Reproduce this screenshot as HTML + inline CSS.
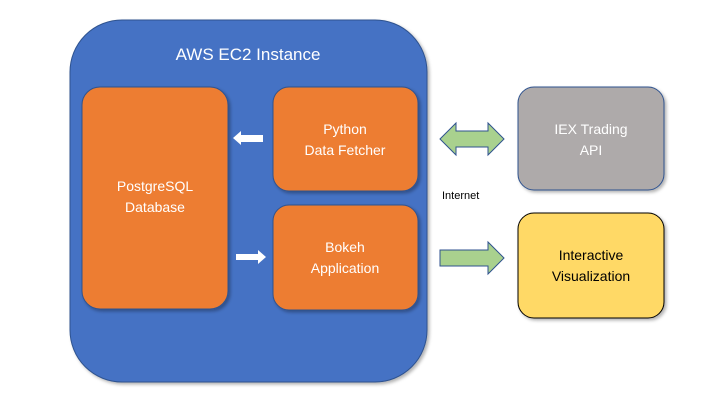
<!DOCTYPE html>
<html><head><style>body{margin:0;background:#fff}svg{display:block}text{font-family:"Liberation Sans",sans-serif}</style></head>
<body>
<svg width="720" height="405" viewBox="0 0 720 405" xmlns="http://www.w3.org/2000/svg">
<defs><filter id="s" x="-10%" y="-10%" width="130%" height="130%"><feDropShadow dx="2" dy="2" stdDeviation="1.5" flood-color="#000" flood-opacity="0.3"/></filter></defs>
<rect x="70" y="20" width="357" height="362" rx="52" fill="#4472c4" stroke="#2f528f" stroke-width="1" filter="url(#s)"/>
<text x="248" y="60" text-anchor="middle" font-size="17" fill="#fff">AWS EC2 Instance</text>
<rect x="82" y="87" width="146" height="222" rx="18" fill="#ed7d31" stroke="#2f528f" filter="url(#s)"/>
<text x="155" y="191" text-anchor="middle" font-size="14" fill="#fff">PostgreSQL</text>
<text x="155" y="212" text-anchor="middle" font-size="14" fill="#fff">Database</text>
<rect x="273" y="87" width="145" height="104" rx="16" fill="#ed7d31" stroke="#2f528f" filter="url(#s)"/>
<text x="345" y="134" text-anchor="middle" font-size="14" fill="#fff">Python</text>
<text x="345" y="155" text-anchor="middle" font-size="14" fill="#fff">Data Fetcher</text>
<rect x="273" y="205" width="145" height="105" rx="16" fill="#ed7d31" stroke="#2f528f" filter="url(#s)"/>
<text x="345" y="252" text-anchor="middle" font-size="14" fill="#fff">Bokeh</text>
<text x="345" y="273" text-anchor="middle" font-size="14" fill="#fff">Application</text>
<polygon points="233,138 241,131 241,135 263,135 263,142 241,142 241,145" fill="#fff"/>
<polygon points="236,254 258,254 258,250 266,257 258,264 258,260 236,260" fill="#fff"/>
<rect x="518" y="87" width="146" height="103" rx="16" fill="#aeaaaa" stroke="#2f528f" filter="url(#s)"/>
<text x="591" y="134" text-anchor="middle" font-size="14" fill="#fff">IEX Trading</text>
<text x="591" y="155" text-anchor="middle" font-size="14" fill="#fff">API</text>
<rect x="518" y="213" width="146" height="105" rx="16" fill="#ffd966" stroke="#000" stroke-width="1" filter="url(#s)"/>
<text x="591" y="260" text-anchor="middle" font-size="14" fill="#000">Interactive</text>
<text x="591" y="281" text-anchor="middle" font-size="14" fill="#000">Visualization</text>
<polygon points="440,139 456,123 456,131 488,131 488,123 504,139 488,155 488,147 456,147 456,155" fill="#a9d18e" stroke="#2f528f" stroke-width="1"/>
<polygon points="440,250 488,250 488,242 504,258 488,274 488,266 440,266" fill="#a9d18e" stroke="#2f528f" stroke-width="1"/>
<text x="442" y="199" font-size="11" fill="#000">Internet</text>
</svg>
</body></html>
